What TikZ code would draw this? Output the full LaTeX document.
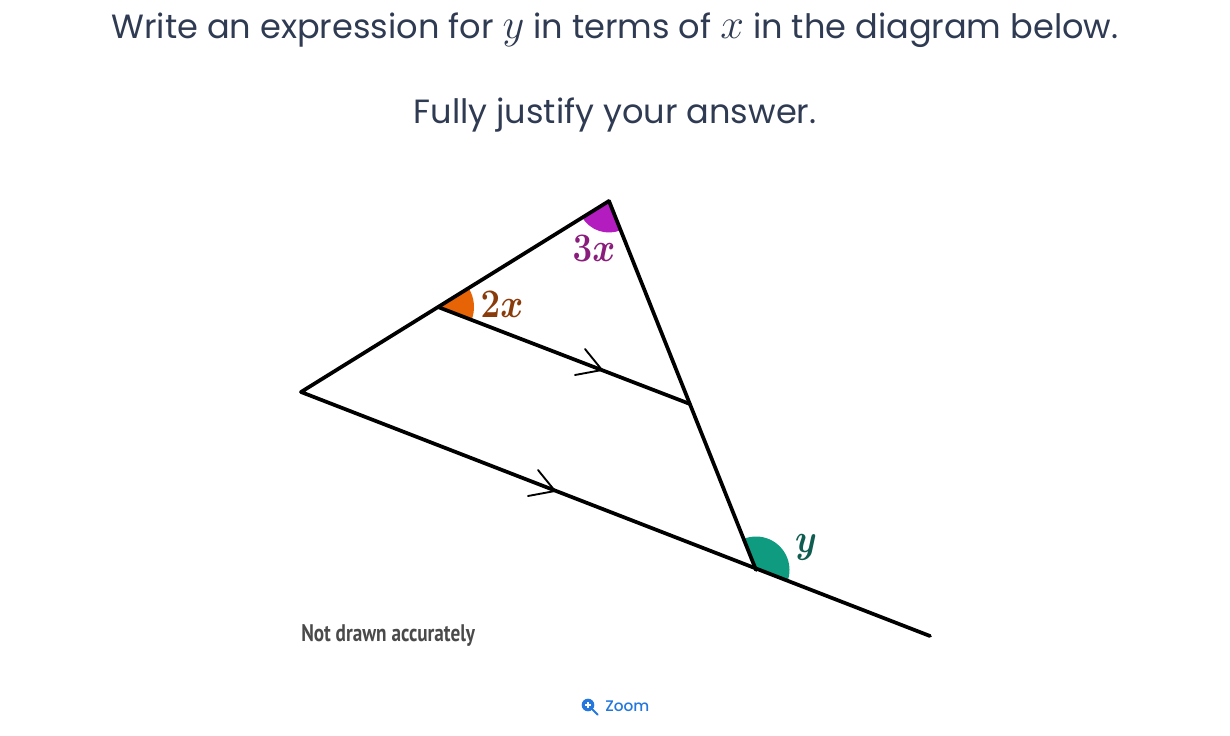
\documentclass[tikz,border=0pt]{standalone}
\usepackage{graphicx}
\usepackage{fontspec}
\setmainfont{Poppins}
\newfontfamily\notefont[FakeStretch=0.8]{PT Sans}
\newfontfamily\zoomfont{Poppins Medium}
\newcommand{\qvar}[1]{\scalebox{1.28}{$#1$}}
\newcommand{\bigvar}[1]{\scalebox{1.05}[1.22]{$#1$}}
\definecolor{slate}{HTML}{2F3B52}
\definecolor{noteGrey}{HTML}{4A4A4A}
\definecolor{zoomBlue}{HTML}{2477DC}
\definecolor{orangeFill}{HTML}{E66405}
\definecolor{orangeText}{HTML}{8A3B0A}
\definecolor{purpleFill}{HTML}{B31CBE}
\definecolor{purpleText}{HTML}{8A1C7C}
\definecolor{greenFill}{HTML}{0F9B80}
\definecolor{greenText}{HTML}{0F5C50}
\tikzset{
question/.style={
  rectangle,
  draw=none,
  text=slate,
  inner sep=0em,
  font=\fontsize{25.2}{30}\selectfont,
},
anglelabel/.style={
  rectangle,
  draw=none,
  inner sep=0em,
  font=\fontsize{24.88}{30}\selectfont\boldmath,
},
side/.style={line width=2.8pt, line cap=round, line join=round},
tick/.style={line width=1.4pt, line cap=round, line join=round},
}

\begin{document}
\begin{tikzpicture}[x=0.75pt, y=-0.75pt]
\useasboundingbox (0,0) rectangle (1230,735);
%question
\node[question](line1) at (615,30) {Write an expression for \qvar{y} in terms of \qvar{x} in the diagram below.};
\node[question](line2) at (615,115) {Fully justify your answer.};

%points
\coordinate (left) at (301,392);
\coordinate (top) at (609,201);
\coordinate (foot) at (756,570);
\coordinate (end) at (930,636);
\coordinate (upper) at (438,307);
\coordinate (cross) at (690,404);
\coordinate (tipupper) at (602,370);
\coordinate (tiplower) at (555,491);

%angles
\fill[orangeFill] (upper) -- +(-31.8:36) arc[start angle=-31.8, end angle=21, radius=36] -- cycle;
\fill[purpleFill] (top) -- +(68.3:31.5) arc[start angle=68.3, end angle=148.2, radius=31.5] -- cycle;
\fill[greenFill] (foot) -- +(248.3:33.5) arc[start angle=248.3, end angle=380.8, radius=33.5] -- cycle;

%lines
\draw[side] (top) -- (left) -- (end);
\draw[side] (top) -- (foot);
\draw[side] (upper) -- (cross);

%parallel marks
\foreach \tip in {tipupper,tiplower}
  \draw[tick] (\tip) ++(-17,-21) -- (\tip) -- ++(-27,5);

%labels
\node[anglelabel, text=orangeText](labelb) at (502,304) {\bigvar{2x}};
\node[anglelabel, text=purpleText](labela) at (594,248) {\bigvar{3x}};
\node[anglelabel, text=greenText](labely) at (806,547) {\bigvar{y}};
\node[anchor=west, inner sep=0em, text=noteGrey, font=\fontsize{18}{20}\notefont\bfseries](note) at (301,635) {Not drawn accurately};

%zoom button
\node[anchor=west, inner sep=0em, text=zoomBlue, font=\fontsize{11.5}{14}\zoomfont](zoomtext) at (605,706) {Zoom};
\node[circle, fill=zoomBlue, minimum size=9.5pt, inner sep=0pt](zoomlens) at (588,705) {};
\draw[zoomBlue, line width=1.4pt, line cap=round] (zoomlens.south east) -- ++(5,5);
\draw[white, line width=0.9pt] (585,705) -- (591,705) (588,702) -- (588,708);
\end{tikzpicture}
\end{document}
